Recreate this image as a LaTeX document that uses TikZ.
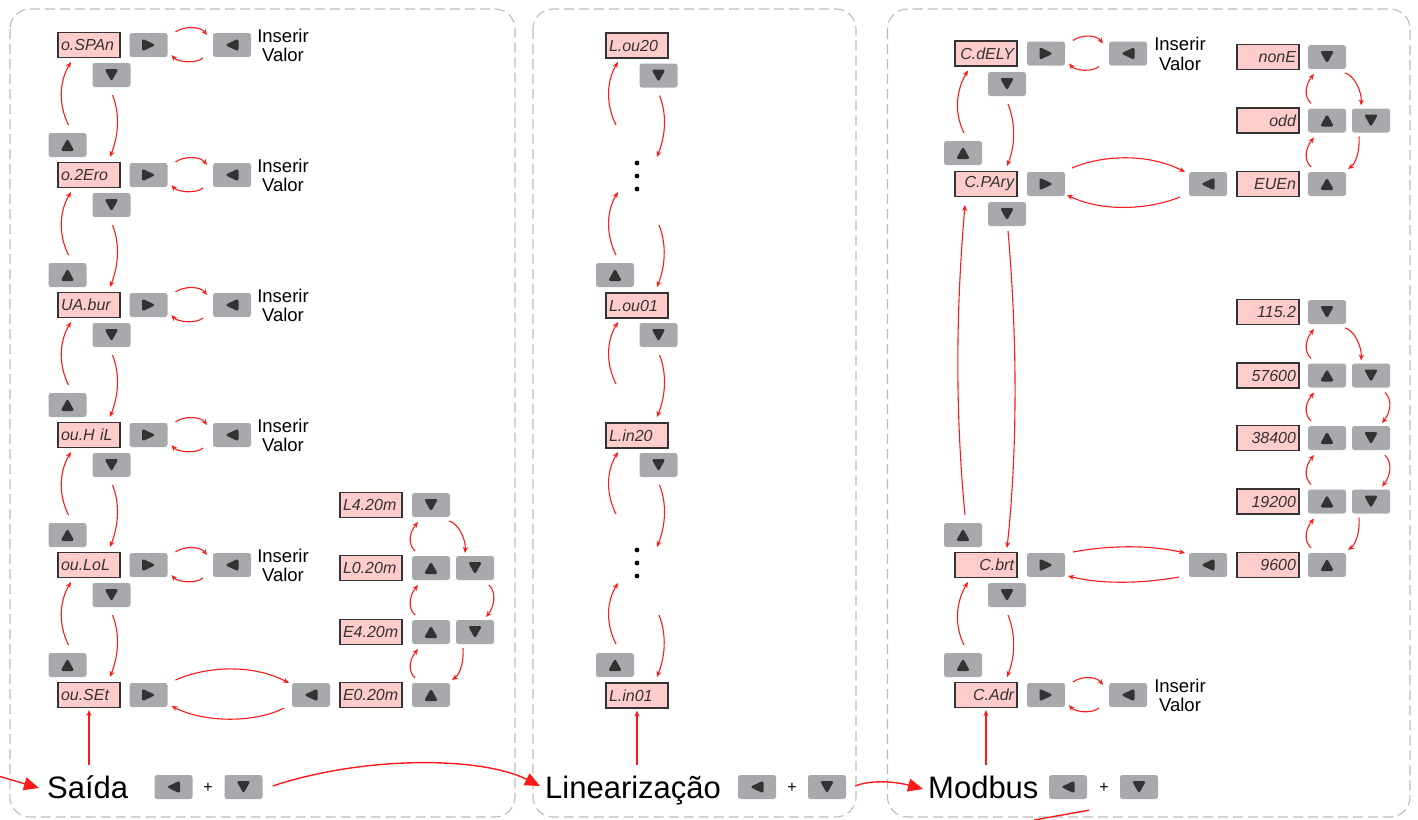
\documentclass[tikz,border=0pt]{standalone}
\usepackage{fontspec}
\setmainfont{Liberation Sans}
\usetikzlibrary{calc,arrows.meta}
\definecolor{btngrey}{HTML}{A7A9AC}
\definecolor{tridark}{HTML}{333333}
\definecolor{dispfill}{HTML}{FFCCCC}
\definecolor{dispdraw}{HTML}{333333}
\definecolor{arrred}{HTML}{FF1A1A}
\definecolor{panelgrey}{HTML}{BBBBBB}

\newcommand\ArrDown[2]{\draw[arr] ($(#1)+(1,20)$) .. controls +(8,20) and +(8,-20) .. ($(#2)+(21,-18)$);}
\newcommand\ArrUp[2]{\draw[arr] ($(#1)+(1,-20)$) .. controls +(-10,-20) and +(-12,20) .. ($(#2)+(-18,17)$);}
\newcommand\ArrSmall[2]{%
 \draw[arr] ($(#1)+(27,-13)$) .. controls +(8,-6) and +(-7,-9) .. ($(#2)+(-25,-10)$);
 \draw[arr] ($(#2)+(-29,13)$) .. controls +(-7,6) and +(6,7) .. ($(#1)+(23,10)$);}
\newcommand\ColUp[2]{\draw[arr] ($(#1)+(-16,-17)$) .. controls +(-8,-8) and +(-8,10) .. ($(#2)+(-13,17)$);}
\newcommand\ColTurn[2]{\draw[arr] ($(#1)+(18,16)$) .. controls +(9,2) and +(1,-14) .. ($(#2)+(-10,-15)$);}
\newcommand\ColDown[2]{\draw[arr] ($(#1)+(14,17)$) .. controls +(8,8) and +(8,-10) .. ($(#2)+(11,-15)$);}
\newcommand\ColBack[2]{\draw[arr] ($(#1)+(-12,16)$) .. controls +(1,14) and +(8,-6) .. ($(#2)+(21,-15)$);}

\begin{document}
\begin{tikzpicture}[x=1pt,y=-1pt,
  btn/.style={fill=btngrey, rounded corners=2.5pt, minimum width=38pt, minimum height=24pt, inner sep=0pt},
  bU/.style={btn, path picture={\fill[tridark] ([shift={(-7pt,-6pt)}]path picture bounding box.center) -- ([shift={(7pt,-6pt)}]path picture bounding box.center) -- ([shift={(0pt,6.5pt)}]path picture bounding box.center) -- cycle;}},
  bD/.style={btn, path picture={\fill[tridark] ([shift={(-7pt,6pt)}]path picture bounding box.center) -- ([shift={(7pt,6pt)}]path picture bounding box.center) -- ([shift={(0pt,-6.5pt)}]path picture bounding box.center) -- cycle;}},
  bR/.style={btn, path picture={\fill[tridark] ([shift={(-6.5pt,6.5pt)}]path picture bounding box.center) -- ([shift={(-6.5pt,-6.5pt)}]path picture bounding box.center) -- ([shift={(7pt,0pt)}]path picture bounding box.center) -- cycle;}},
  bL/.style={btn, path picture={\fill[tridark] ([shift={(6.5pt,6.5pt)}]path picture bounding box.center) -- ([shift={(6.5pt,-6.5pt)}]path picture bounding box.center) -- ([shift={(-7pt,0pt)}]path picture bounding box.center) -- cycle;}},
  dispbase/.style={draw=dispdraw, line width=1.1pt, fill=dispfill, minimum height=25pt, inner ysep=0pt, inner xsep=3pt, text width=56pt, text=tridark, font=\fontsize{16}{16}\selectfont\itshape},
  dL/.style={dispbase, align=left},
  dR/.style={dispbase, align=right},
  iv/.style={align=center, inner sep=0pt, font=\fontsize{18.5}{19.5}\selectfont},
  big/.style={inner sep=0pt, font=\fontsize{31}{36}\selectfont},
  plus/.style={inner sep=0pt, font=\fontsize{16}{16}\selectfont},
  arr/.style={draw=arrred, line width=1.1pt, -{Stealth[length=6pt,width=5pt]}},
  bigarr/.style={draw=arrred, line width=1.4pt, -{Triangle[length=15pt,width=13pt]}},
  bigline/.style={draw=arrred, line width=1.4pt},
  panel/.style={draw=panelgrey, line width=1.1pt, dash pattern=on 10pt off 5pt, rounded corners=20pt},
  vdot/.style={fill=black}
]
\useasboundingbox (0,0) rectangle (1418,819);

% panels
\draw[panel] (10,9) rectangle (515,817);
\draw[panel] (533,9) rectangle (856,817);
\draw[panel] (887.5,9) rectangle (1410,817);

% ---------------- Panel 1: Saida ----------------
\node[dL] (a1) at (89,45) {o.SPAn};
\node[dL] (a2) at (89,175) {o.2Ero};
\node[dL] (a3) at (89,305) {UA.bur};
\node[dL] (a4) at (89,435) {ou.H iL};
\node[dL] (a5) at (89,565) {ou.LoL};
\node[dL] (a6) at (89,695) {ou.SEt};
\foreach \i in {1,...,6} {\node[bR] (ar\i) at (148.5,{45+130*(\i-1)}) {};}
\foreach \i in {1,...,5} {
  \node[bL] (al\i) at (232,{45+130*(\i-1)}) {};
  \node[iv] (at\i) at (283,{45.5+130*(\i-1)}) {Inserir\\Valor};
  \node[bD] (ad\i) at (111.5,{75+130*(\i-1)}) {};
}
\foreach \i in {2,...,6} {\node[bU] (au\i) at (67.5,{15+130*(\i-1)}) {};}
\node[bL] (al6) at (311,695) {};

\node[dL] (L4) at (371,505) {L4.20m};
\node[bD] (L4d) at (431,505) {};
\node[dL] (L0) at (371,568) {L0.20m};
\node[bU] (L0u) at (431,568) {};
\node[bD] (L0d) at (475,568) {};
\node[dL] (E4) at (371,632) {E4.20m};
\node[bU] (E4u) at (431,632) {};
\node[bD] (E4d) at (475,632) {};
\node[dL] (E0) at (371,695) {E0.20m};
\node[bU] (E0u) at (431,695) {};

\foreach \i/\j in {1/2,2/3,3/4,4/5,5/6} {\ArrDown{ad\i}{a\j} \ArrUp{au\j}{a\i}}
\foreach \i in {1,...,5} {\ArrSmall{ar\i}{al\i}}
\draw[arr] ($(ar6)+(27,-15)$) .. controls +(34,-15) and +(-34,-18) .. ($(al6)+(-22,-12)$);
\draw[arr] ($(al6)+(-27,13)$) .. controls +(-29,15) and +(33,17) .. ($(ar6)+(23,11)$);
\ColUp{L0u}{L4d}
\ColTurn{L4d}{L0d}
\ColUp{E4u}{L0u}
\ColDown{L0d}{E4d}
\ColUp{E0u}{E4u}
\ColBack{E4d}{E0u}

% ---------------- Panel 2: Linearizacao ----------------
\node[dL] (m1) at (637,45.5) {L.ou20};
\node[bD] (m1d) at (658.5,75.5) {};
\coordinate (dots1) at (637,176);
\node[bU] (m2u) at (615,275) {};
\node[dL] (m2) at (637,305.5) {L.ou01};
\node[bD] (m2d) at (658.5,335) {};
\node[dL] (m3) at (637,435.5) {L.in20};
\node[bD] (m3d) at (658.5,465) {};
\coordinate (dots2) at (637,563);
\node[bU] (m4u) at (615,665) {};
\node[dL] (m4) at (637,695.5) {L.in01};
\foreach \dy in {-13,0,13} {
  \fill[vdot] ($(dots1)+(0,\dy)$) circle (2.4);
  \fill[vdot] ($(dots2)+(0,\dy)$) circle (2.4);
}
\draw[arr] ($(m1d)+(1,20)$) .. controls +(8,20) and +(8,-20) .. ($(dots1)+(20,-19)$);
\draw[arr] ($(dots1)+(-21,-51)$) .. controls +(-10,-20) and +(-12,20) .. ($(m1)+(-19,16.5)$);
\draw[arr] ($(m2u)+(1,-20)$) .. controls +(-10,-20) and +(-12,20) .. ($(dots1)+(-19,16)$);
\draw[arr] ($(dots1)+(22,49)$) .. controls +(8,20) and +(8,-20) .. ($(m2)+(20,-18.5)$);
\draw[arr] ($(m2d)+(1,20)$) .. controls +(8,20) and +(8,-20) .. ($(m3)+(20,-18.5)$);
\draw[arr] ($(m3)+(-21,-51.5)$) .. controls +(-10,-20) and +(-12,20) .. ($(m2)+(-19,16.5)$);
\draw[arr] ($(m3d)+(1,20)$) .. controls +(8,20) and +(8,-20) .. ($(dots2)+(20,-16)$);
\draw[arr] ($(dots2)+(-21,-49)$) .. controls +(-10,-20) and +(-12,20) .. ($(m3)+(-19,16.5)$);
\draw[arr] ($(m4u)+(1,-21)$) .. controls +(-10,-20) and +(-12,20) .. ($(dots2)+(-19,20)$);
\draw[arr] ($(dots2)+(22,52)$) .. controls +(8,20) and +(8,-20) .. ($(m4)+(20,-18.5)$);

% ---------------- Panel 3: Modbus ----------------
\node[dR] (c1) at (986,53.5) {C.dELY};
\node[bR] (c1r) at (1046,53.5) {};
\node[bL] (c1l) at (1128,53.5) {};
\node[iv] (c1t) at (1180,54) {Inserir\\Valor};
\node[bD] (c1d) at (1007,84) {};
\node[bU] (c2u) at (963,153) {};
\node[dR] (c2) at (986,184) {C.PAry};
\node[bR] (c2r) at (1046,184) {};
\node[bL] (c2l) at (1208,184) {};
\node[bD] (c2d) at (1007,214) {};
\node[bU] (c3u) at (963,535) {};
\node[dR] (c3) at (986,565) {C.brt};
\node[bR] (c3r) at (1046,565) {};
\node[bL] (c3l) at (1208,565) {};
\node[bD] (c3d) at (1007,595) {};
\node[bU] (c4u) at (963,665) {};
\node[dR] (c4) at (986,695) {C.Adr};
\node[bR] (c4r) at (1046,695) {};
\node[bL] (c4l) at (1128,695) {};
\node[iv] (c4t) at (1180,695.5) {Inserir\\Valor};

\node[dR] (pn) at (1268,57) {nonE};
\node[bD] (pnd) at (1327,57) {};
\node[dR] (po) at (1268,120.5) {odd};
\node[bU] (pou) at (1327,120.5) {};
\node[bD] (pod) at (1371,120.5) {};
\node[dR] (pe) at (1268,184) {EUEn};
\node[bU] (peu) at (1327,184) {};

\node[dR] (b1) at (1268,312) {115.2};
\node[bD] (b1d) at (1327,312) {};
\node[dR] (b2) at (1268,375.5) {57600};
\node[bU] (b2u) at (1327,375.5) {};
\node[bD] (b2d) at (1371,375.5) {};
\node[dR] (b3) at (1268,438) {38400};
\node[bU] (b3u) at (1327,438) {};
\node[bD] (b3d) at (1371,438) {};
\node[dR] (b4) at (1268,501.5) {19200};
\node[bU] (b4u) at (1327,501.5) {};
\node[bD] (b4d) at (1371,501.5) {};
\node[dR] (b5) at (1268,565) {9600};
\node[bU] (b5u) at (1327,565) {};

\ArrSmall{c1r}{c1l}
\ArrDown{c1d}{c2}
\ArrUp{c2u}{c1}
\draw[arr] ($(c2r)+(26,-16)$) .. controls +(33,-14) and +(-35,-18) .. ($(c2l)+(-23,-12)$);
\draw[arr] ($(c2l)+(-28,13)$) .. controls +(-35,14) and +(33,16) .. ($(c2r)+(21,11)$);
\draw[arr] ($(c3u)+(2,-20)$) .. controls +(-10,-105) and +(-9,105) .. ($(c2)+(-21,21)$);
\draw[arr] ($(c2d)+(1,17)$) .. controls +(9,104) and +(11,-103) .. ($(c3)+(21,-17)$);
\draw[arr] ($(c3r)+(27,-13)$) .. controls +(37,-7) and +(-35,-8) .. ($(c3l)+(-23,-12)$);
\draw[arr] ($(c3l)+(-29,12)$) .. controls +(-39,7) and +(32,8) .. ($(c3r)+(22,11)$);
\ArrDown{c3d}{c4}
\ArrUp{c4u}{c3}
\ArrSmall{c4r}{c4l}

\ColUp{pou}{pnd}
\ColTurn{pnd}{pod}
\ColUp{peu}{pou}
\ColBack{pod}{peu}

\ColUp{b2u}{b1d}
\ColTurn{b1d}{b2d}
\ColUp{b3u}{b2u}
\ColDown{b2d}{b3d}
\ColUp{b4u}{b3u}
\ColDown{b3d}{b4d}
\ColUp{b5u}{b4u}
\ColBack{b4d}{b5u}

% ---------------- bottom labels ----------------
\node[big, anchor=base west] (saida) at (47,798) {Saída};
\node[bL] (sl) at (173.5,787) {};
\node[plus] (sp) at (208,788) {+};
\node[bD] (sd) at (243.5,787) {};
\node[big, anchor=base west] (lin) at (545,798) {Linearização};
\node[bL] (ll) at (757,787) {};
\node[plus] (lp) at (792,788) {+};
\node[bD] (ld) at (827,787) {};
\node[big, anchor=base west] (mod) at (928,798) {Modbus};
\node[bL] (ml) at (1068,787) {};
\node[plus] (mp) at (1104,788) {+};
\node[bD] (md) at (1139,787) {};

\coordinate (sv) at (saida.north -| a6.south);
\coordinate (lv) at (lin.north -| m4.south);
\coordinate (mv) at (mod.north -| c4.south);
\draw[arr] ($(sv)+(0,-10)$) -- ($(a6.south)+(0,2)$);
\draw[arr] ($(lv)+(0,-10)$) -- ($(m4.south)+(0,2)$);
\draw[arr] ($(mv)+(0,-10)$) -- ($(c4.south)+(0,2)$);

\coordinate (inL) at (0,776.5);
\draw[bigarr] (inL) -- ($(saida.base west)+(-8,-10)$);
\draw[bigarr] ($(sd.east)+(10,-1)$) .. controls +(90,-30) and +(-60,-30) .. ($(lin.base west)+(-5,-12)$);
\draw[bigarr] ($(ld.east)+(9,-1)$) .. controls +(15,-6) and +(-30,-8) .. ($(mod.base west)+(-5,-9)$);
\coordinate (outB) at (1034,820);
\draw[bigline] ($(ml.south)+(21,11)$) -- (outB);
\end{tikzpicture}
\end{document}
